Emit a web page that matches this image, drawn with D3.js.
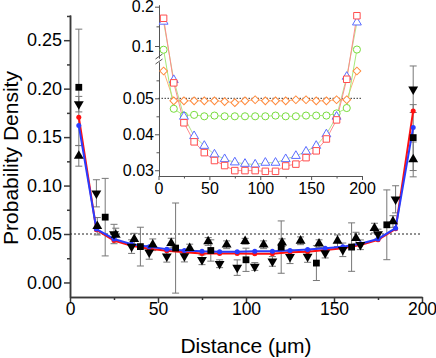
<!DOCTYPE html>
<html>
<head>
<meta charset="utf-8">
<script src="https://cdn.jsdelivr.net/npm/d3@7"></script>
<style>
  body { margin: 0; background: #fff; }
  text { font-family: "Liberation Sans", Arial, sans-serif; }
</style>
</head>
<body>
<svg id="chart" width="436" height="358"></svg>
<script>
// model curves (same on main plot and inset)
const modelX = [5, 15, 25, 35, 45, 55, 65, 75, 85, 95, 105, 115, 125, 135, 145, 155, 165, 175, 185, 195];
const modelRed = [0.1705, 0.0543, 0.0432, 0.0379, 0.0349, 0.0327, 0.0313, 0.0299, 0.0299, 0.0299, 0.0297, 0.0297, 0.0312, 0.0317, 0.0335, 0.0354, 0.0387, 0.044, 0.0553, 0.177];
const modelBlue = [0.162, 0.0551, 0.0449, 0.0395, 0.0368, 0.0344, 0.0331, 0.0322, 0.0318, 0.0316, 0.0321, 0.0321, 0.0331, 0.034, 0.0352, 0.0368, 0.04, 0.0449, 0.056, 0.16];
// inset-only curves
const insetGreen = [0.0905, 0.0471, 0.0452, 0.0454, 0.045, 0.0452, 0.045, 0.045, 0.045, 0.045, 0.045, 0.0452, 0.045, 0.045, 0.0452, 0.0452, 0.0452, 0.0458, 0.0473, 0.091];
const insetOrange = [0.0576, 0.0493, 0.0493, 0.0493, 0.0493, 0.0493, 0.0491, 0.0488, 0.0493, 0.0496, 0.0493, 0.0493, 0.0493, 0.0496, 0.0496, 0.0493, 0.0493, 0.0496, 0.0496, 0.0576];

// measured data
const squareX = [5, 20, 40, 60, 80, 100, 120, 140, 160, 180, 195];
const squareY = [0.2014, 0.0674, 0.037, 0.0355, 0.033, 0.0234, 0.0365, 0.020, 0.0365, 0.0595, 0.1495];
const squareErr = [0.060, 0.040, 0.020, 0.0465, 0.011, 0.012, 0.027, 0.018, 0.025, 0.036, 0.034];

const downX = [5, 15, 25, 35, 45, 55, 65, 75, 85, 95, 105, 115, 125, 135, 145, 155, 165, 175, 185, 195];
const downY = [0.184, 0.092, 0.050, 0.037, 0.031, 0.027, 0.0272, 0.0234, 0.0193, 0.0153, 0.0165, 0.0217, 0.0265, 0.0268, 0.0303, 0.0337, 0.0389, 0.050, 0.0858, 0.1994];
const downErr = [0.008, 0.014, 0.010, 0.007, 0.007, 0.006, 0.006, 0.005, 0.004, 0.008, 0.004, 0.005, 0.007, 0.006, 0.005, 0.007, 0.005, 0.005, 0.014, 0.024];

const upX = [5, 15.5, 26, 36.5, 47, 57.5, 68, 78.5, 89, 99.5, 110, 120.5, 131, 141.5, 152, 162.5, 173, 183.5, 195];
const upY = [0.1306, 0.058, 0.049, 0.0447, 0.0389, 0.0406, 0.0355, 0.0423, 0.0389, 0.0425, 0.0389, 0.041, 0.043, 0.040, 0.043, 0.0458, 0.0561, 0.0629, 0.127];
const upErr = [0.0106, 0.009, 0.007, 0.006, 0.006, 0.005, 0.004, 0.004, 0.004, 0.003, 0.004, 0.004, 0.004, 0.004, 0.006, 0.006, 0.005, 0.006, 0.018];

const xTicks = [0, 50, 100, 150, 200];
const xMinor = [25, 75, 125, 175];
const yTicks = [0, 0.05, 0.10, 0.15, 0.20, 0.25];
const yMinor = [0.025, 0.075, 0.125, 0.175, 0.225, 0.275];
const refLevel = 0.05;

const svg = d3.select("#chart");

// ---------- main plot ----------
const x = d3.scaleLinear().domain([0, 200]).range([70, 422]);
const y = d3.scaleLinear().domain([-0.015, 0.276]).range([297, 15]);

const styleAxis = (g, color, w) => {
  g.selectAll("path, line").attr("stroke", color).attr("stroke-width", w);
};

svg.append("g")
  .attr("transform", "translate(70,0)")
  .call(d3.axisLeft(y).tickValues(yMinor).tickSize(3).tickSizeOuter(0).tickFormat(""))
  .call(g => styleAxis(g, "#3a3a3a", 1.5));
svg.append("g")
  .attr("transform", "translate(70,0)")
  .call(d3.axisLeft(y).tickValues(yTicks).tickSize(6).tickSizeOuter(0).tickPadding(2).tickFormat(d3.format(".2f")))
  .call(g => styleAxis(g, "#3a3a3a", 1.5))
  .call(g => g.selectAll("text").attr("font-size", 18).attr("fill", "#000"));

svg.append("g")
  .attr("transform", "translate(0,297)")
  .call(d3.axisBottom(x).tickValues(xMinor).tickSize(3).tickSizeOuter(0).tickFormat(""))
  .call(g => styleAxis(g, "#3a3a3a", 1.5));
svg.append("g")
  .attr("transform", "translate(0,297)")
  .call(d3.axisBottom(x).tickValues(xTicks).tickSize(6).tickSizeOuter(0).tickPadding(0))
  .call(g => styleAxis(g, "#3a3a3a", 1.5))
  .call(g => g.selectAll("text").attr("font-size", 17.5).attr("fill", "#000"));

// axis titles
svg.append("text")
  .attr("transform", "translate(18,158) rotate(-90)")
  .attr("text-anchor", "middle")
  .attr("font-size", 21)
  .text("Probability Density");
svg.append("text")
  .attr("x", 246).attr("y", 353)
  .attr("text-anchor", "middle")
  .attr("font-size", 21)
  .text("Distance (\u03bcm)");

// dotted reference line
svg.append("line")
  .attr("x1", x(0)).attr("x2", x(200))
  .attr("y1", y(refLevel)).attr("y2", y(refLevel))
  .attr("stroke", "#222").attr("stroke-width", 1)
  .attr("stroke-dasharray", "2,2");

// error bars
const errSeries = [
  { xs: squareX, ys: squareY, es: squareErr },
  { xs: downX, ys: downY, es: downErr },
  { xs: upX, ys: upY, es: upErr }
];
const errG = svg.append("g").attr("stroke", "#777").attr("stroke-width", 1);
errSeries.forEach(s => {
  s.xs.forEach((xv, i) => {
    const cx = x(xv), top = y(s.ys[i] + s.es[i]), bot = y(s.ys[i] - s.es[i]);
    errG.append("line").attr("x1", cx).attr("x2", cx).attr("y1", top).attr("y2", bot);
    errG.append("line").attr("x1", cx - 3.5).attr("x2", cx + 3.5).attr("y1", top).attr("y2", top);
    errG.append("line").attr("x1", cx - 3.5).attr("x2", cx + 3.5).attr("y1", bot).attr("y2", bot);
  });
});

// model lines
const drawModel = (vals, color) => {
  const pts = modelX.map((xv, i) => [xv, vals[i]]);
  svg.append("path")
    .datum(pts)
    .attr("fill", "none")
    .attr("stroke", color)
    .attr("stroke-width", 2)
    .attr("d", d3.line().x(d => x(d[0])).y(d => y(d[1])));
  svg.append("g").selectAll("circle")
    .data(pts)
    .join("circle")
    .attr("cx", d => x(d[0])).attr("cy", d => y(d[1]))
    .attr("r", 2.5)
    .attr("fill", color);
};
drawModel(modelRed, "#ff1010");
drawModel(modelBlue, "#2a3cff");

// measured markers
const sq = d3.symbol().type(d3.symbolSquare).size(46);
const tri = d3.symbol().type(d3.symbolTriangle).size(42);

svg.append("g").selectAll("path")
  .data(squareX.map((xv, i) => [xv, squareY[i]]))
  .join("path")
  .attr("d", sq)
  .attr("transform", d => `translate(${x(d[0])},${y(d[1])})`)
  .attr("fill", "#000");

svg.append("g").selectAll("path")
  .data(downX.map((xv, i) => [xv, downY[i]]))
  .join("path")
  .attr("d", tri)
  .attr("transform", d => `translate(${x(d[0])},${y(d[1])}) rotate(180)`)
  .attr("fill", "#000");

svg.append("g").selectAll("path")
  .data(upX.map((xv, i) => [xv, upY[i]]))
  .join("path")
  .attr("d", tri)
  .attr("transform", d => `translate(${x(d[0])},${y(d[1])})`)
  .attr("fill", "#000");

// ---------- inset (broken y axis) ----------
const xi = d3.scaleLinear().domain([0, 200]).range([158.5, 362]);
const yLow = d3.scaleLinear().domain([0.0284, 0.0601]).range([176, 62]);
const yHigh = d3.scaleLinear().domain([0.0695, 0.2043]).range([58, 5]);
const yi = v => {
  if (v <= 0.0601) return yLow(v);
  if (v >= 0.0695) return yHigh(v);
  return 62 + (v - 0.0601) / (0.0695 - 0.0601) * (58 - 62);
};

const inset = svg.append("g");

inset.append("g")
  .attr("transform", "translate(159,0)")
  .call(d3.axisLeft(yLow).tickValues([0.035, 0.045, 0.055]).tickSize(2.5).tickSizeOuter(0).tickFormat(""))
  .call(g => styleAxis(g, "#555", 1));
inset.append("g")
  .attr("transform", "translate(159,0)")
  .call(d3.axisLeft(yLow).tickValues([0.03, 0.04, 0.05]).tickSize(4).tickSizeOuter(0).tickPadding(1).tickFormat(d3.format(".2f")))
  .call(g => styleAxis(g, "#555", 1))
  .call(g => g.selectAll("text").attr("font-size", 16).attr("fill", "#000"));
inset.append("g")
  .attr("transform", "translate(159,0)")
  .call(d3.axisLeft(yHigh).tickValues([0.15]).tickSize(2.5).tickSizeOuter(0).tickFormat(""))
  .call(g => styleAxis(g, "#555", 1));
inset.append("g")
  .attr("transform", "translate(159,0)")
  .call(d3.axisLeft(yHigh).tickValues([0.1, 0.2]).tickSize(4).tickSizeOuter(0).tickPadding(1).tickFormat(d3.format(".1f")))
  .call(g => styleAxis(g, "#555", 1))
  .call(g => g.selectAll("text").attr("font-size", 16).attr("fill", "#000"));

// axis break marks
[56.5, 61.5].forEach(by => {
  inset.append("line")
    .attr("x1", 155.5).attr("x2", 162.5)
    .attr("y1", by + 2.5).attr("y2", by - 2.5)
    .attr("stroke", "#555").attr("stroke-width", 1);
});

inset.append("g")
  .attr("transform", "translate(0,176)")
  .call(d3.axisBottom(xi).tickValues(xMinor).tickSize(2.5).tickSizeOuter(0).tickFormat(""))
  .call(g => styleAxis(g, "#555", 1));
inset.append("g")
  .attr("transform", "translate(0,176)")
  .call(d3.axisBottom(xi).tickValues(xTicks).tickSize(4).tickSizeOuter(0).tickPadding(2.5))
  .call(g => styleAxis(g, "#555", 1))
  .call(g => g.selectAll("text").attr("font-size", 16).attr("fill", "#000"));

inset.append("line")
  .attr("x1", xi(0)).attr("x2", xi(200))
  .attr("y1", yi(refLevel)).attr("y2", yi(refLevel))
  .attr("stroke", "#333").attr("stroke-width", 1)
  .attr("stroke-dasharray", "1.5,1.5");

const insetSeries = [
  { vals: insetOrange, line: "#ffb27a", mark: "#ff8a3c", shape: "diamond" },
  { vals: insetGreen, line: "#a6ea78", mark: "#78dc3c", shape: "circle" },
  { vals: modelBlue, line: "#b4e28c", mark: "#5a6cff", shape: "triangle" },
  { vals: modelRed, line: "#ff8a8a", mark: "#ff4d4d", shape: "square" }
];

const shapes = {
  diamond: d3.symbol().type(d3.symbolSquare).size(30),
  circle: d3.symbol().type(d3.symbolCircle).size(40),
  triangle: d3.symbol().type(d3.symbolTriangle).size(34),
  square: d3.symbol().type(d3.symbolSquare).size(42)
};

insetSeries.forEach(s => {
  const pts = modelX.map((xv, i) => [xv, s.vals[i]]);
  inset.append("path")
    .datum(pts)
    .attr("fill", "none")
    .attr("stroke", s.line)
    .attr("stroke-width", 1)
    .attr("d", d3.line().x(d => xi(d[0])).y(d => yi(d[1])));
});
insetSeries.forEach(s => {
  const pts = modelX.map((xv, i) => [xv, s.vals[i]]);
  inset.append("g").selectAll("path")
    .data(pts)
    .join("path")
    .attr("d", shapes[s.shape])
    .attr("transform", d => `translate(${xi(d[0])},${yi(d[1])})` + (s.shape === "diamond" ? " rotate(45)" : ""))
    .attr("fill", "#fff")
    .attr("stroke", s.mark)
    .attr("stroke-width", 1);
});
</script>
</body>
</html>
